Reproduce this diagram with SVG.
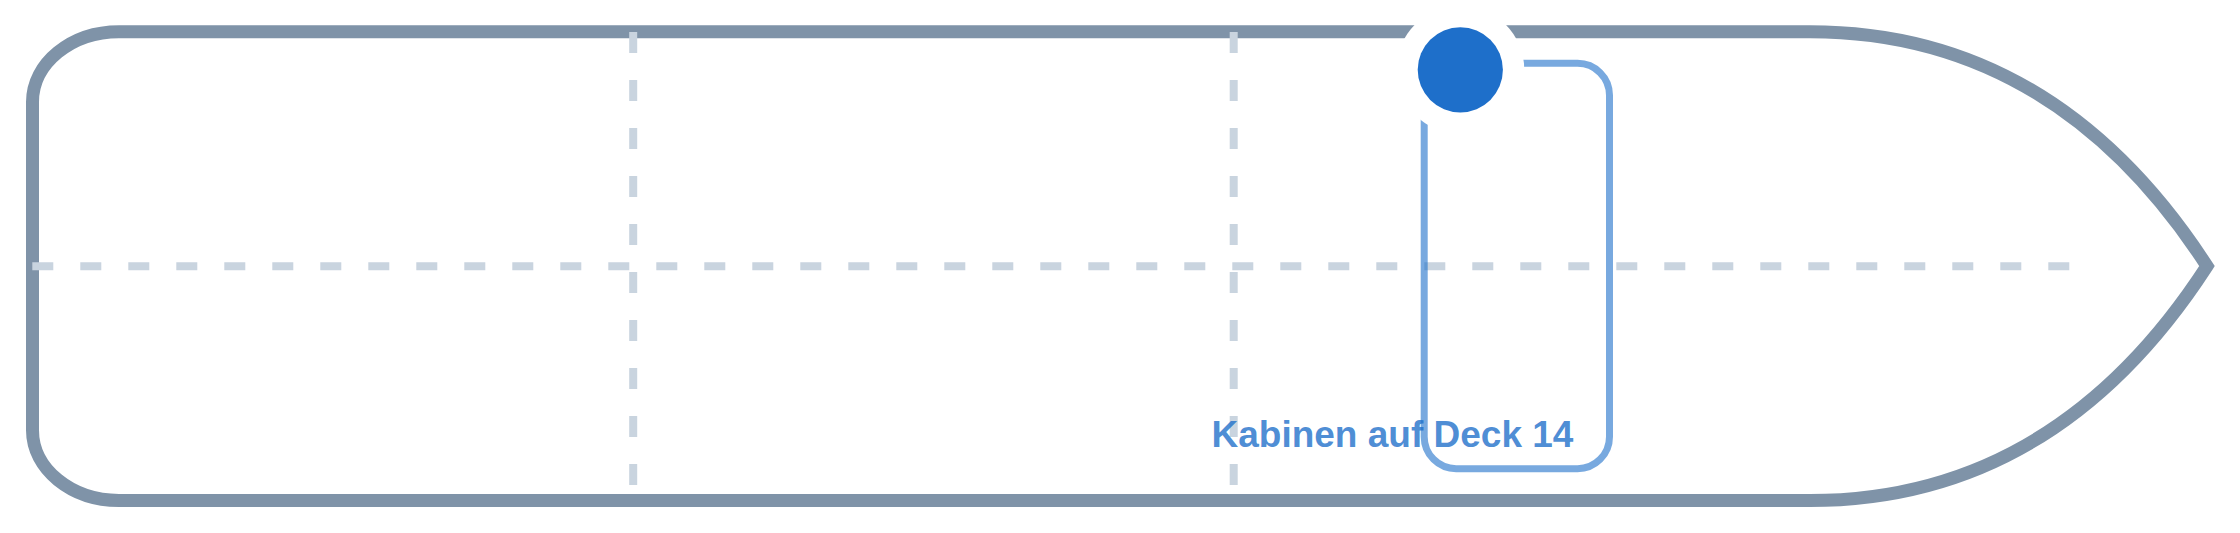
<svg xmlns="http://www.w3.org/2000/svg" width="2240" height="533" viewBox="0 0 2240 533">
  <style>
    .hull { fill: none; stroke: #7f93a8; stroke-width: 13; stroke-linejoin: miter; }
    .grid { fill: none; stroke: #c9d4df; stroke-width: 8; stroke-dasharray: 21 27; }
    .zone { fill: none; stroke: #1e6fca; stroke-opacity: 0.6; stroke-width: 7; }
    .label { font-family: "Liberation Sans", Arial, sans-serif; font-weight: bold; font-size: 37px; fill: #1e6fca; fill-opacity: 0.8; }
  </style>
  <rect width="2240" height="533" fill="#ffffff"/>
  <g id="hull">
    <path class="hull" d="M 119 31.7 L 1810 31.7 Q 2055 31.7 2207 266.1 Q 2055 500.5 1810 500.5 L 119 500.5 C 71.3 500.5 32.5 469 32.5 430.2 L 32.5 102 C 32.5 63.2 71.3 31.7 119 31.7 Z"/>
  </g>
  <g id="grid">
    <line class="grid" x1="32.3" y1="266.3" x2="2075" y2="266.3"/>
    <line class="grid" x1="633.2" y1="32" x2="633.2" y2="500"/>
    <line class="grid" x1="1233.7" y1="32" x2="1233.7" y2="500"/>
  </g>
  <g id="cabins-deck-14">
    <rect class="zone" x="1424.2" y="63.3" width="185.3" height="405.4" rx="32" ry="32"/>
    <text class="label" x="1211.5" y="446.7">Kabinen auf Deck 14</text>
  </g>
  <g id="marker">
    <circle cx="1460.3" cy="69.8" r="64" fill="#ffffff"/>
    <circle cx="1460.3" cy="69.8" r="42.6" fill="#1e6fca"/>
  </g>
</svg>
